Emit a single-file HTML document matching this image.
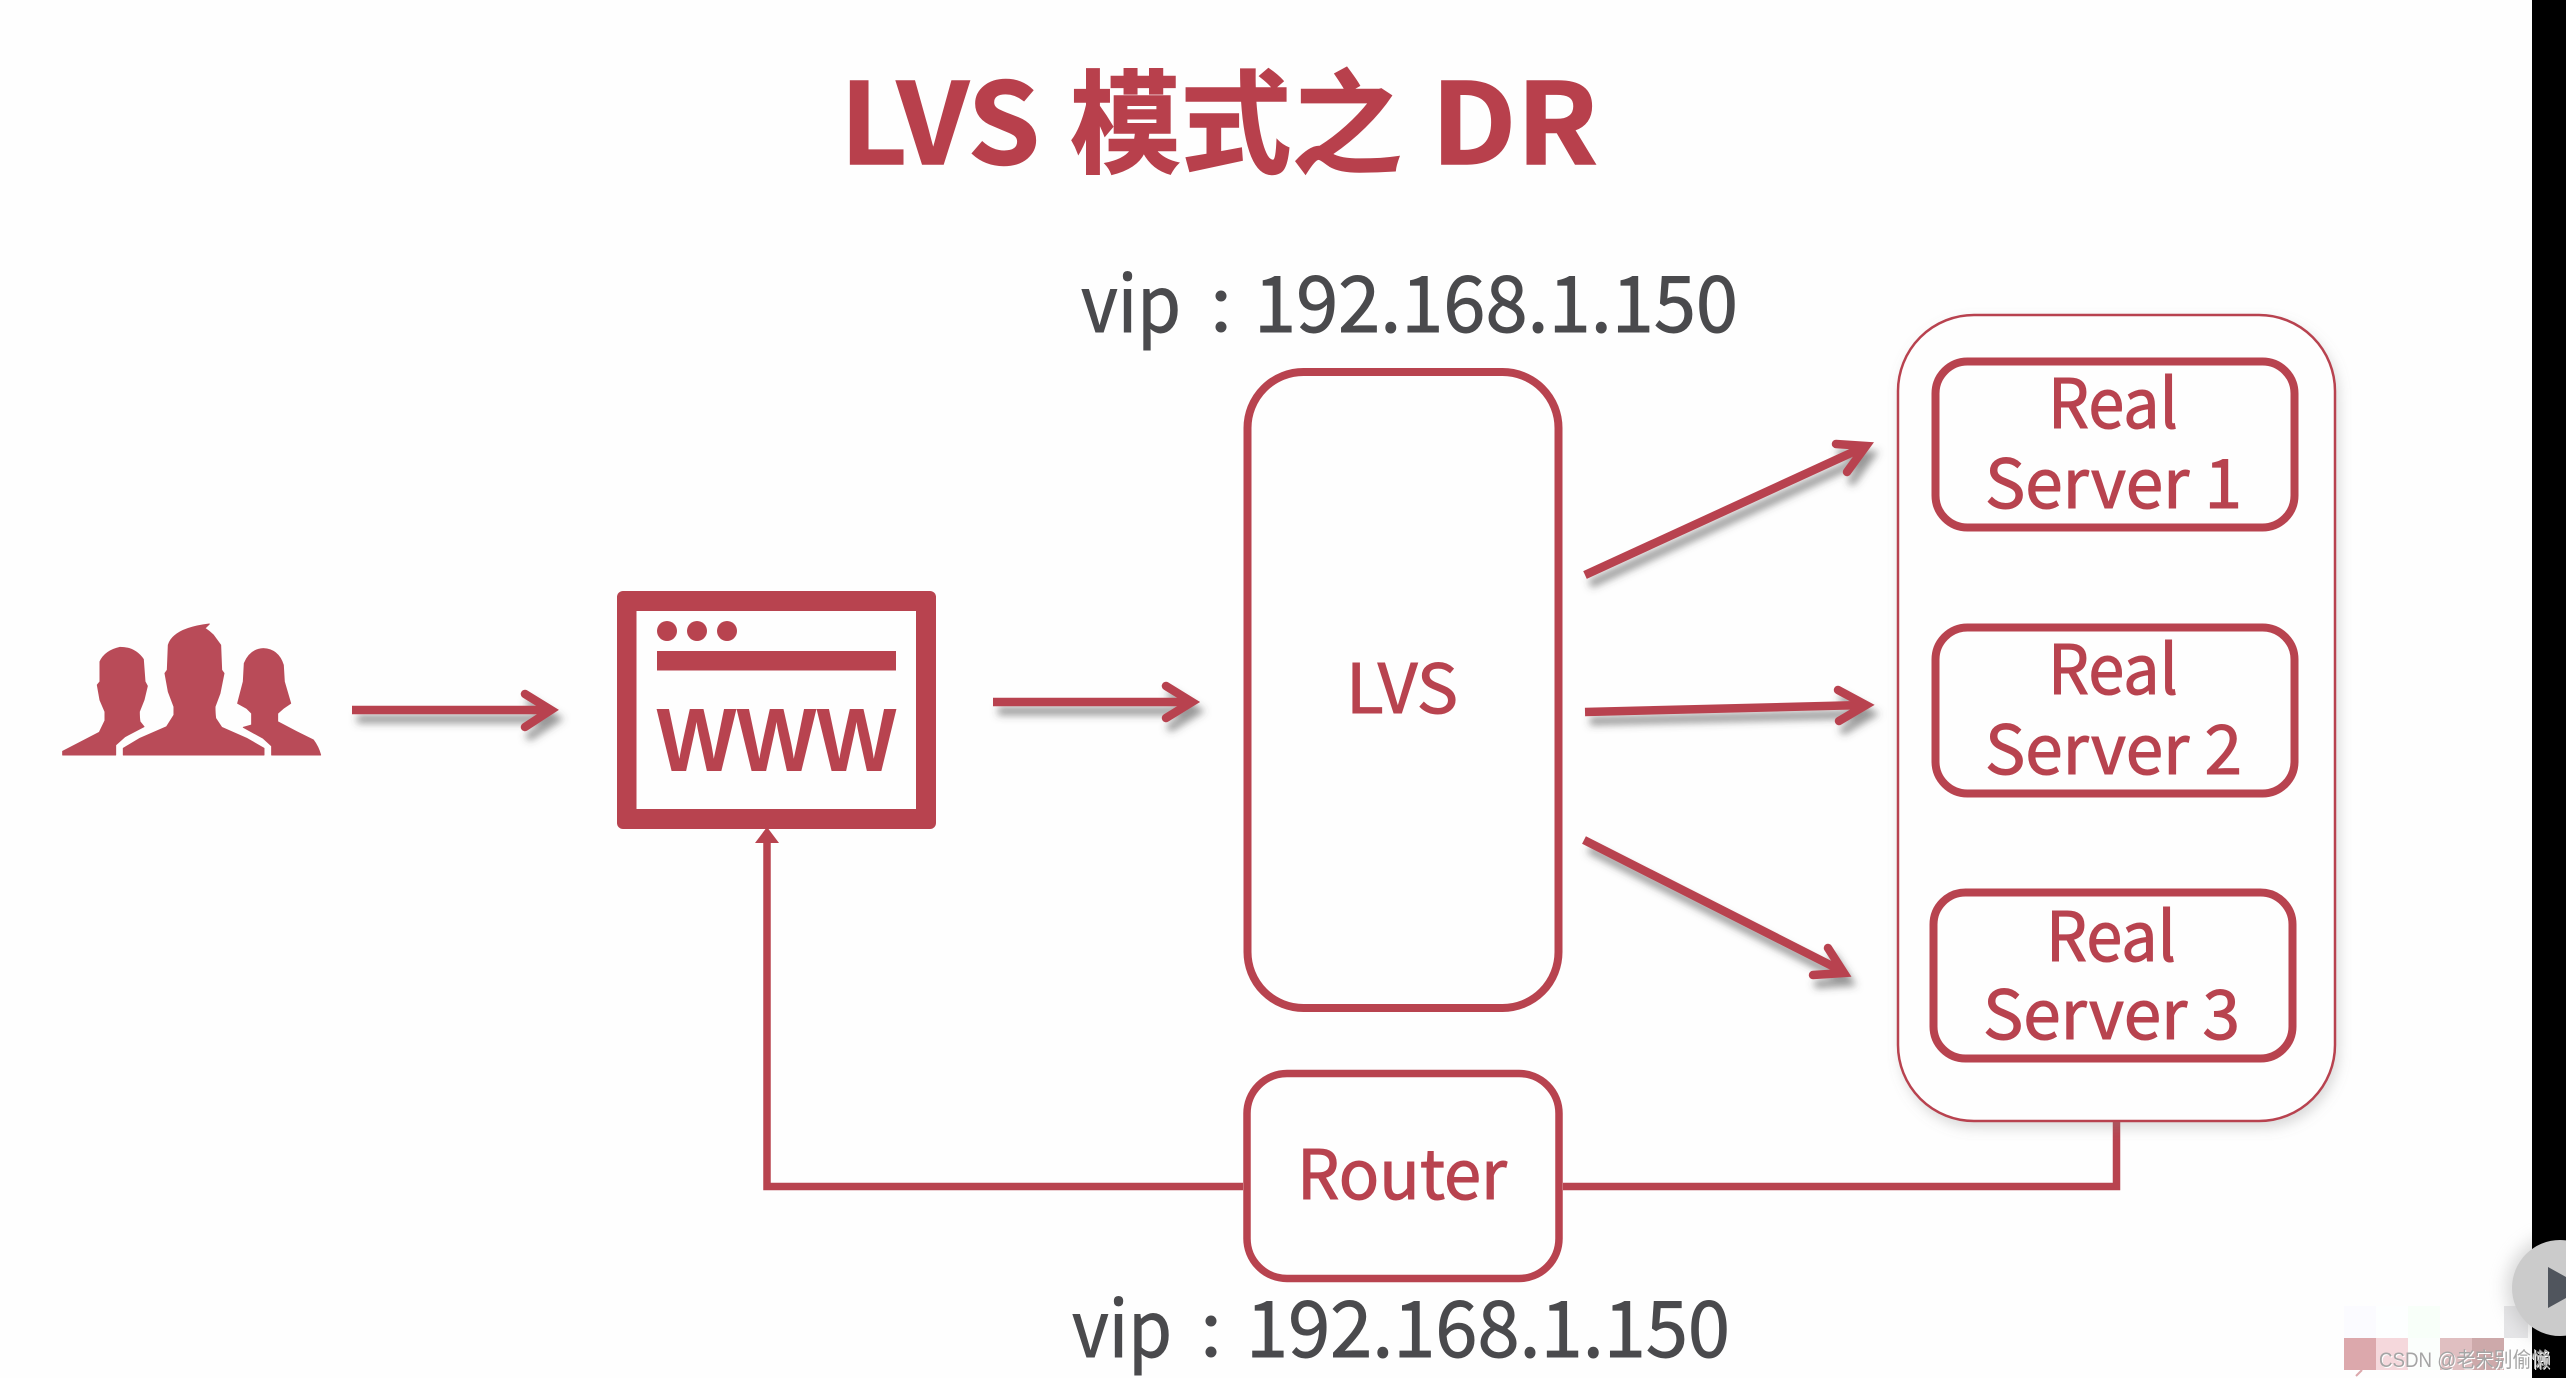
<!DOCTYPE html>
<html><head><meta charset="utf-8"><style>
html,body{margin:0;padding:0;background:#fefefe;width:2566px;height:1378px;overflow:hidden}
svg{display:block}
text{font-family:"Liberation Sans","Noto Sans CJK SC",sans-serif}
.n{font-family:"Noto Sans CJK SC","Liberation Sans",sans-serif}
.r{fill:#b8434f;stroke:#b8434f;stroke-width:1.1;font-size:68px}
.g{fill:#4a4a4d;stroke:#4a4a4d;stroke-width:.9;font-size:78px}
.t{fill:#b8404c;stroke:#b8404c;stroke-width:1.4;font-size:112px;font-weight:700}
.box{fill:none;stroke:#b8434f}
.ar{fill:none;stroke:#b8434f;stroke-width:8.500}
</style></head><body>
<svg width="2566" height="1378" viewBox="0 0 2566 1378" xmlns="http://www.w3.org/2000/svg">
<defs>
<filter id="s" x="-20%" y="-60%" width="140%" height="240%"><feDropShadow dx="5" dy="9" stdDeviation="4" flood-color="#444" flood-opacity=".55"/></filter>
<filter id="s2" x="-10%" y="-10%" width="120%" height="120%"><feDropShadow dx="3" dy="6" stdDeviation="6" flood-color="#888" flood-opacity=".3"/></filter>
<filter id="s3" x="-40%" y="-40%" width="180%" height="180%"><feGaussianBlur stdDeviation="8"/></filter>
</defs>
<rect width="2566" height="1378" fill="#fefefe"/>

<!-- title -->
<text class="t n" x="840" y="164" textLength="200" lengthAdjust="spacingAndGlyphs">LVS</text>
<text class="t n" x="1070" y="164" textLength="332" lengthAdjust="spacingAndGlyphs">模式之</text>
<text class="t n" x="1431" y="164" textLength="167" lengthAdjust="spacingAndGlyphs">DR</text>

<!-- vip labels -->
<text class="g n" x="1081" y="332" textLength="100" lengthAdjust="spacingAndGlyphs">vip</text>
<circle cx="1221" cy="296" r="5.500" fill="#4a4a4d"/><circle cx="1221" cy="327" r="5.500" fill="#4a4a4d"/>
<text class="g n" x="1254" y="332" textLength="484" lengthAdjust="spacingAndGlyphs">192.168.1.150</text>
<text class="g n" x="1072" y="1357" textLength="100" lengthAdjust="spacingAndGlyphs">vip</text>
<circle cx="1211" cy="1321" r="5.500" fill="#4a4a4d"/><circle cx="1211" cy="1352" r="5.500" fill="#4a4a4d"/>
<text class="g n" x="1246" y="1357" textLength="484" lengthAdjust="spacingAndGlyphs">192.168.1.150</text>

<!-- people -->
<g transform="translate(50 610) scale(.3333)" fill="#b94b58" stroke="#b94b58" stroke-width="3" stroke-linejoin="round">
<path d="M38 435V424L148 367L165 332V305Q150 270 150 270L142 225L150 215V155Q165 122 210 112Q255 112 280 148L285 215L292 228L282 270L268 305Q268 325 270 335L282 350L225 380L197 405V435Z"/>
<path d="M220 435V415L270 385L350 350L372 315V290L355 245L345 190L352 180L355 105Q370 55 478 42L465 55Q480 65 490 75L512 105L515 180L522 190L510 250L495 290Q495 310 497 325L515 352L590 385L642 415V435Z"/>
<path d="M665 435V408L640 385L580 352L605 345V310L590 295L563 280L580 215L583 160Q600 118 640 116Q685 118 700 165L703 215L722 280L700 295L683 310V335L740 365L790 390Q805 410 812 435Z"/>
</g>

<!-- www -->
<rect x="617" y="591" width="319" height="238" rx="6" fill="#b8434f"/>
<rect x="636.500" y="611" width="279.500" height="198" fill="#fefefe"/>
<ellipse cx="667" cy="631" rx="10" ry="10" fill="#b8434f"/>
<ellipse cx="697" cy="631" rx="10" ry="10" fill="#b8434f"/>
<ellipse cx="727" cy="631" rx="10" ry="10" fill="#b8434f"/>
<rect x="657" y="651" width="239" height="19.500" fill="#b8434f"/>
<text x="656.500" y="771" textLength="240" lengthAdjust="spacingAndGlyphs" style="font-size:90px;font-weight:700;fill:#b8434f">WWW</text>

<!-- horizontal arrows -->
<g filter="url(#s)">
<path class="ar" d="M352 710H552"/><path class="ar" stroke-linecap="round" d="M525 694L551 710L525 727"/>
</g>
<g filter="url(#s)">
<path class="ar" d="M993 702H1192"/><path class="ar" stroke-linecap="round" d="M1166 686L1192 702L1166 718"/>
</g>

<!-- lvs -->
<rect x="1247.500" y="372" width="311" height="636" rx="56" class="box" stroke-width="8"/>
<text class="r n" x="1346" y="713" textLength="112" lengthAdjust="spacingAndGlyphs">LVS</text>

<!-- server arrows -->
<g filter="url(#s)">
<path class="ar" d="M1585 575L1864 447"/><path class="ar" stroke-linecap="round" d="M1836 444L1866 446L1847 472"/>
</g>
<g filter="url(#s)">
<path class="ar" d="M1585 712L1864 705"/><path class="ar" stroke-linecap="round" d="M1838 690L1866 705L1839 721"/>
</g>
<g filter="url(#s)">
<path class="ar" d="M1584 840L1842 971"/><path class="ar" stroke-linecap="round" d="M1828 948L1844 973L1813 975"/>
</g>

<!-- router connectors -->
<path d="M2116.500 1122V1186.500H1563M1243 1186.500H767V842" fill="none" stroke="#b8434f" stroke-width="7.500"/>
<polygon points="767,827 755,843 779,843" fill="#b8434f"/>

<!-- servers group -->
<rect x="1898" y="315" width="437" height="806" rx="76" fill="#fefefe" stroke="#b8434f" stroke-width="2.500" filter="url(#s2)"/>
<rect x="1935.500" y="361.500" width="359" height="166" rx="32" class="box" stroke-width="8"/>
<rect x="1935.500" y="627.500" width="359" height="166" rx="32" class="box" stroke-width="8"/>
<rect x="1933.500" y="892.500" width="359" height="166" rx="32" class="box" stroke-width="8"/>
<text class="r n" x="2048" y="428" textLength="130" lengthAdjust="spacingAndGlyphs">Real</text>
<text class="r n" x="1985" y="508" textLength="257" lengthAdjust="spacingAndGlyphs">Server 1</text>
<text class="r n" x="2048" y="694" textLength="130" lengthAdjust="spacingAndGlyphs">Real</text>
<text class="r n" x="1985" y="774" textLength="257" lengthAdjust="spacingAndGlyphs">Server 2</text>
<text class="r n" x="2046" y="961" textLength="130" lengthAdjust="spacingAndGlyphs">Real</text>
<text class="r n" x="1983" y="1039" textLength="257" lengthAdjust="spacingAndGlyphs">Server 3</text>

<!-- router -->
<rect x="1247" y="1073.500" width="312" height="205" rx="40" fill="#fefefe" stroke="#b8434f" stroke-width="7.500"/>
<text class="r n" x="1297" y="1199" textLength="210" lengthAdjust="spacingAndGlyphs">Router</text>

<!-- video artefacts -->
<rect x="2344" y="1306" width="32" height="32" fill="#fbfbff"/>
<rect x="2376" y="1306" width="32" height="32" fill="#fdffff"/>
<rect x="2408" y="1306" width="32" height="32" fill="#f8fff9"/>
<rect x="2504" y="1306" width="24" height="32" fill="#e5e5e7"/>
<rect x="2344" y="1338" width="32" height="32" fill="#dca8ac"/>
<rect x="2376" y="1338" width="32" height="32" fill="#f5d8dc"/>
<rect x="2408" y="1338" width="32" height="32" fill="#fbfefc"/>
<rect x="2440" y="1338" width="32" height="32" fill="#e0bfc1"/>
<rect x="2472" y="1338" width="32" height="32" fill="#cda9aa"/>
<path d="M2362 1370L2356 1376" stroke="#dca8ac" stroke-width="2"/>

<circle cx="2560" cy="1288" r="54" fill="#bbb" opacity=".55" filter="url(#s3)"/>
<rect x="2532" y="0" width="34" height="1378" fill="#000"/>
<circle cx="2560" cy="1288" r="48" fill="#cbcbcb"/>
<polygon points="2548,1267 2566,1277 2566,1298 2548,1308" fill="#50555d"/>

<text x="2380" y="1368" style="font-size:21px;fill:#fff" textLength="171" lengthAdjust="spacingAndGlyphs">CSDN @老宋别偷懒</text>
<text x="2379" y="1367" style="font-size:21px;fill:#a5a5a5" textLength="171" lengthAdjust="spacingAndGlyphs">CSDN @老宋别偷懒</text>
</svg>
</body></html>
